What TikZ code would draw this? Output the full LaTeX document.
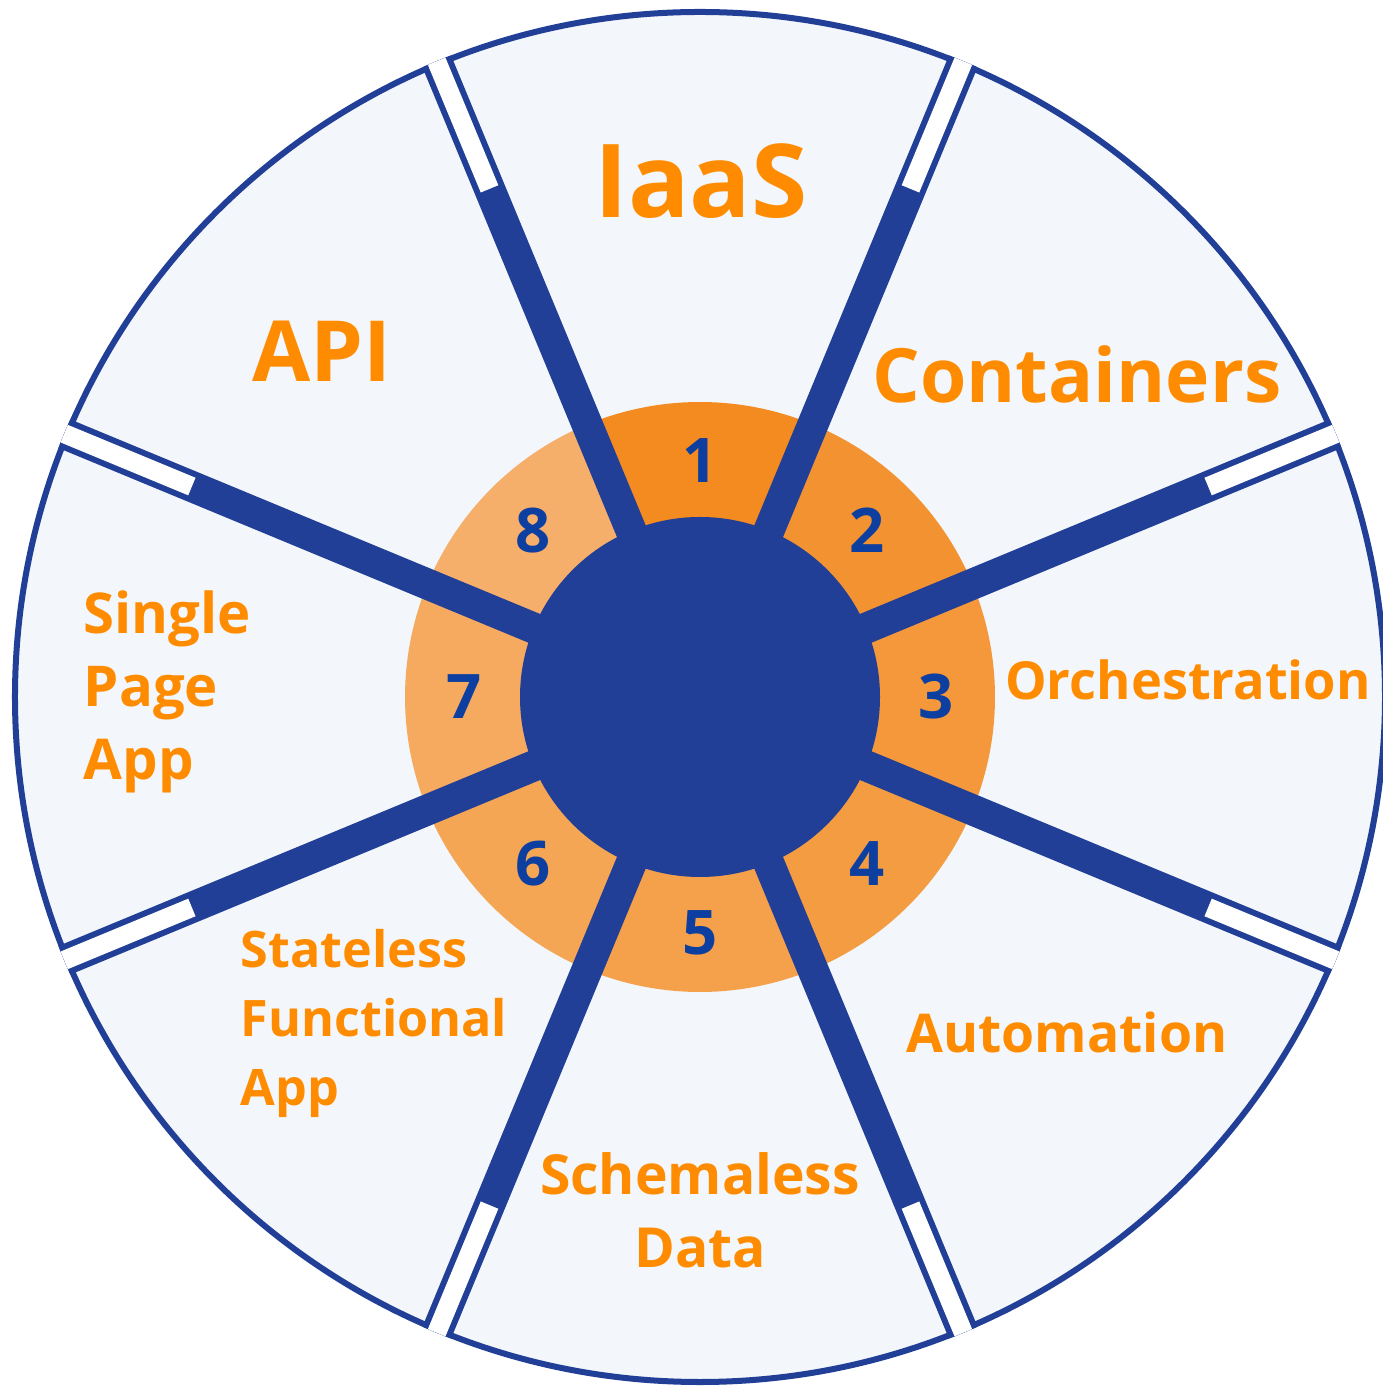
\documentclass[tikz,border=0pt]{standalone}
\usepackage{fontspec}
\setmainfont{Open Sans}
\definecolor{hubblue}{HTML}{213F96}
\definecolor{numblue}{HTML}{0D3FA0}
\definecolor{cellfill}{HTML}{F3F6FA}
\definecolor{labelorange}{HTML}{FF8C00}
\definecolor{seg1}{HTML}{F38B20}
\definecolor{seg2}{HTML}{F39231}
\definecolor{seg3}{HTML}{F4983B}
\definecolor{seg4}{HTML}{F49C42}
\definecolor{seg5}{HTML}{F5A14B}
\definecolor{seg6}{HTML}{F5A655}
\definecolor{seg7}{HTML}{F6AA60}
\definecolor{seg8}{HTML}{F6AE6B}
\tikzset{
  seclabel/.style={text=labelorange,inner sep=0pt,font=\bfseries\fontsize{16}{20.5}\selectfont},
  numlabel/.style={text=numblue,inner sep=0pt,font=\bfseries\fontsize{17.5}{20}\selectfont}
}
\begin{document}
\begin{tikzpicture}[x=0.01cm,y=0.01cm,line join=round]
			\def\rout{685}
			\def\rring{295}
			\def\rhub{180}
			\def\rgap{550}
			\fill[white] (-700,-689) rectangle (683,697);
			\useasboundingbox (-700,-689) rectangle (683,697);
			\fill[cellfill] (0,0) circle (\rout);
			\draw[hubblue,line width=0.06cm] (0,0) circle (\rout);
			\foreach \k/\c in {1/seg1,2/seg2,3/seg3,4/seg4,5/seg5,6/seg6,7/seg7,8/seg8}
			{
				\pgfmathsetmacro\a{90-45*(\k-1)}
				\fill[\c] (0,0) -- ({\a-22.5}:\rring) arc[start angle=\a-22.5,end angle=\a+22.5,radius=\rring] -- cycle;
			}
			\begin{scope}
				\clip (0,0) circle (\rout+3);
				\foreach \a in {22.5,67.5,...,337.5}
				{
					\draw[hubblue,line width=0.31cm] (0,0) -- ({\a}:{\rout+20});
					\draw[white,line width=0.19cm] ({\a}:\rgap) -- ({\a}:{\rout+20});
				}
			\end{scope}
			\fill[hubblue] (0,0) circle (\rhub);
			\foreach \k in {1,...,8}
			{
				\node[numlabel] (n\k) at ({90-45*(\k-1)}:236) {\k};
			}
			\node[seclabel,anchor=base,font=\bfseries\fontsize{29}{29}\selectfont] (iaas) at (1,479) {IaaS};
			\node[seclabel,anchor=base,font=\bfseries\fontsize{24}{24}\selectfont] (api) at (-378,315) {API};
			\node[seclabel,anchor=base,font=\bfseries\fontsize{21.3}{22}\selectfont] (containers) at (377,294) {Containers};
			\node[seclabel,anchor=base,font=\bfseries\fontsize{14.9}{20}\selectfont] (orchestration) at (488,-3) {Orchestration};
			\node[seclabel,anchor=base,font=\bfseries\fontsize{15.2}{20}\selectfont] (automation) at (367,-355) {Automation};
			\node[seclabel,anchor=base,align=center,font=\bfseries\fontsize{15.7}{20.5}\selectfont] (schemaless) at (0,-570) {Schemaless\\Data};
			\node[seclabel,anchor=base west,align=left,font=\bfseries\fontsize{14.3}{19.6}\selectfont] (stateless) at (-460,-408) {Stateless\\Functional\\App};
			\node[seclabel,anchor=base west,align=left,font=\bfseries\fontsize{16}{20.8}\selectfont] (spa) at (-617,-83) {Single\\Page\\App};
		\end{tikzpicture}
\end{document}
